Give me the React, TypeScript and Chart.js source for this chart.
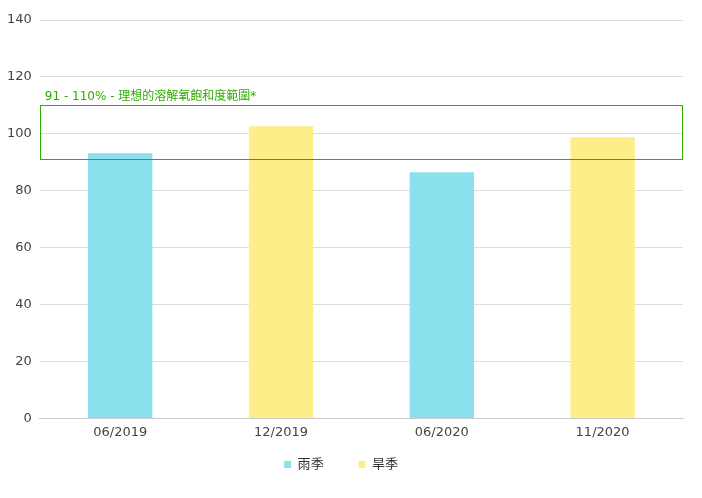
import React, { useEffect, useRef } from "react";
import { Chart, registerables } from "chart.js";

Chart.register(...registerables);

const categories = ["06/2019", "12/2019", "06/2020", "11/2020"];
const rainySeason = [93.2, null, 86.5, null];
const drySeason = [0, 102.7, null, 98.8];
const seriesNames = ["雨季", "旱季"];
const rangeLow = 91;
const rangeHigh = 110;
const rangeLabel = "91 - 110% - 理想的溶解氧飽和度範圍*";
const yMin = 0;
const yMax = 140;
const yStep = 20;

const FONT = "'DejaVu Sans', 'Noto Sans CJK TC', sans-serif";
const GREEN = "#30ad00";

const rangeBoxPlugin = {
  id: "rangeBox",
  afterDatasetsDraw(chart: any) {
    const { ctx, chartArea, scales } = chart;
    const y = scales.y;
    const top = y.getPixelForValue(rangeHigh);
    const bottom = y.getPixelForValue(rangeLow);
    ctx.save();
    ctx.strokeStyle = GREEN;
    ctx.lineWidth = 1;
    ctx.strokeRect(
      Math.round(chartArea.left) + 0.5,
      Math.round(top) + 0.5,
      Math.round(chartArea.right - chartArea.left) - 1,
      Math.round(bottom - top)
    );
    ctx.fillStyle = GREEN;
    ctx.font = `12px ${FONT}`;
    ctx.textBaseline = "middle";
    ctx.textAlign = "left";
    ctx.fillText(rangeLabel, chartArea.left + 5, top - 8);
    ctx.restore();
  },
};

export default function App() {
  const ref = useRef<HTMLCanvasElement | null>(null);
  useEffect(() => {
    if (!ref.current) return;
    const chart = new Chart(ref.current, {
      type: "bar",
      data: {
        labels: categories,
        datasets: [
          {
            label: seriesNames[0],
            data: rainySeason,
            backgroundColor: "#8ae0ec",
            barPercentage: 0.4,
            categoryPercentage: 1,
          },
          {
            label: seriesNames[1],
            data: drySeason,
            backgroundColor: "#feee8a",
            barPercentage: 0.4,
            categoryPercentage: 1,
            minBarLength: 1,
          },
        ],
      },
      options: {
        animation: false,
        responsive: true,
        maintainAspectRatio: false,
        layout: { padding: { left: -1, right: 19, top: 20, bottom: 17 } },
        scales: {
          x: {
            stacked: true,
            grid: { display: false, drawTicks: false },
            border: { color: "#cccccc" },
            ticks: { color: "#444444", font: { size: 13, family: FONT }, padding: 6 },
          },
          y: {
            stacked: false,
            min: yMin,
            max: yMax,
            border: { display: false },
            grid: { color: "#dddddd", drawTicks: false },
            ticks: { stepSize: yStep, color: "#444444", font: { size: 13, family: FONT }, padding: 8 },
          },
        },
        plugins: {
          tooltip: { enabled: false },
          legend: {
            position: "bottom",
            labels: {
              usePointStyle: true,
              pointStyle: "rect",
              boxWidth: 7,
              boxHeight: 7,
              padding: 12,
              color: "#333333",
              font: { size: 13, family: FONT },
              generateLabels(c: any) {
                const items = Chart.defaults.plugins.legend.labels.generateLabels(c);
                items.forEach((it: any, i: number) => {
                  it.lineWidth = 0;
                  if (i < items.length - 1) it.text = it.text + "\u3000\u2002\u2005";
                });
                return items;
              },
            },
          },
        },
      },
      plugins: [rangeBoxPlugin],
    } as any);
    return () => chart.destroy();
  }, []);
  return (
    <div style={{ position: "fixed", left: 0, top: 0, width: 702, height: 498, background: "#fff" }}>
      <canvas ref={ref} />
    </div>
  );
}
